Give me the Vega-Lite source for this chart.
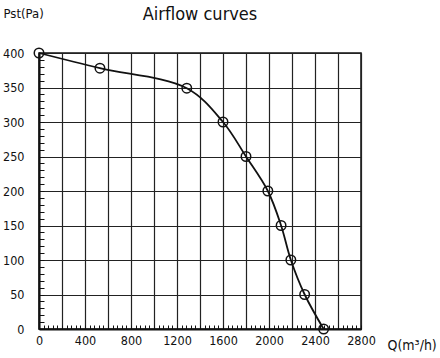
{
  "$schema": "https://vega.github.io/schema/vega-lite/v6.json",
  "width": 322,
  "height": 276,
  "autosize": "none",
  "padding": {"left": 39, "top": 53, "right": 79, "bottom": 29},
  "background": "white",
  "config": {
    "font": "DejaVu Sans Condensed",
    "view": {"stroke": "#111", "strokeWidth": 1.5}
  },
  "title": {
    "text": "Airflow curves",
    "fontSize": 18,
    "fontWeight": "normal",
    "font": "DejaVu Sans Condensed",
    "color": "#111",
    "anchor": "middle",
    "frame": "group",
    "offset": -17
  },
  "data": {
    "values": [
      {"q": 0, "p": 400},
      {"q": 530, "p": 378},
      {"q": 1285, "p": 349},
      {"q": 1600, "p": 300},
      {"q": 1800, "p": 250},
      {"q": 1990, "p": 200},
      {"q": 2105, "p": 150},
      {"q": 2190, "p": 100},
      {"q": 2310, "p": 50},
      {"q": 2475, "p": 0}
    ]
  },
  "encoding": {
    "x": {
      "field": "q",
      "type": "quantitative",
      "scale": {"domain": [0, 2800], "nice": false, "zero": false},
      "axis": {
        "title": "Q(m³/h)",
        "titleFontSize": 14,
        "titleFontWeight": "normal",
        "titleColor": "#111",
        "titleAlign": "left",
        "titleBaseline": "middle",
        "titleX": 348,
        "titleY": 16,
        "values": [0,40,80,120,160,200,240,280,320,360,400,440,480,520,560,600,640,680,720,760,800,840,880,920,960,1000,1040,1080,1120,1160,1200,1240,1280,1320,1360,1400,1440,1480,1520,1560,1600,1640,1680,1720,1760,1800,1840,1880,1920,1960,2000,2040,2080,2120,2160,2200,2240,2280,2320,2360,2400,2440,2480,2520,2560,2600,2640,2680,2720,2760,2800],
        "labelExpr": "datum.value % 400 === 0 ? datum.label : ''",
        "format": "d",
        "labelFontSize": 12.5,
        "labelColor": "#111",
        "labelPadding": 9,
        "labelFlush": false,
        "labelOverlap": false,
        "tickSize": -4,
        "tickColor": "#111",
        "tickWidth": 1,
        "domainColor": "#111",
        "domainWidth": 2,
        "grid": true,
        "gridColor": "#222",
        "gridWidth": 1.2,
        "gridOpacity": {"condition": {"test": "datum.value % 200 === 0", "value": 1}, "value": 0}
      }
    },
    "y": {
      "field": "p",
      "type": "quantitative",
      "scale": {"domain": [0, 400], "nice": false, "zero": false},
      "axis": {
        "title": "Pst(Pa)",
        "titleFontSize": 13,
        "titleFontWeight": "normal",
        "titleColor": "#111",
        "titleAngle": 0,
        "titleAlign": "left",
        "titleBaseline": "middle",
        "titleX": -36,
        "titleY": -40,
        "values": [0,10,20,30,40,50,60,70,80,90,100,110,120,130,140,150,160,170,180,190,200,210,220,230,240,250,260,270,280,290,300,310,320,330,340,350,360,370,380,390,400],
        "labelExpr": "datum.value % 50 === 0 ? datum.label : ''",
        "labelFontSize": 12.5,
        "labelColor": "#111",
        "labelPadding": 20,
        "labelFlush": false,
        "labelOverlap": false,
        "tickSize": -5,
        "tickColor": "#111",
        "tickWidth": 1,
        "domainColor": "#111",
        "domainWidth": 2,
        "grid": true,
        "gridColor": "#222",
        "gridWidth": 1.2,
        "gridOpacity": {"condition": {"test": "datum.value % 50 === 0", "value": 1}, "value": 0}
      }
    }
  },
  "layer": [
    {
      "mark": {"type": "line", "interpolate": "catmull-rom", "color": "#111", "strokeWidth": 1.8}
    },
    {
      "mark": {"type": "point", "shape": "circle", "filled": false, "color": "#111", "strokeWidth": 1.5, "size": 90, "opacity": 1}
    }
  ]
}
